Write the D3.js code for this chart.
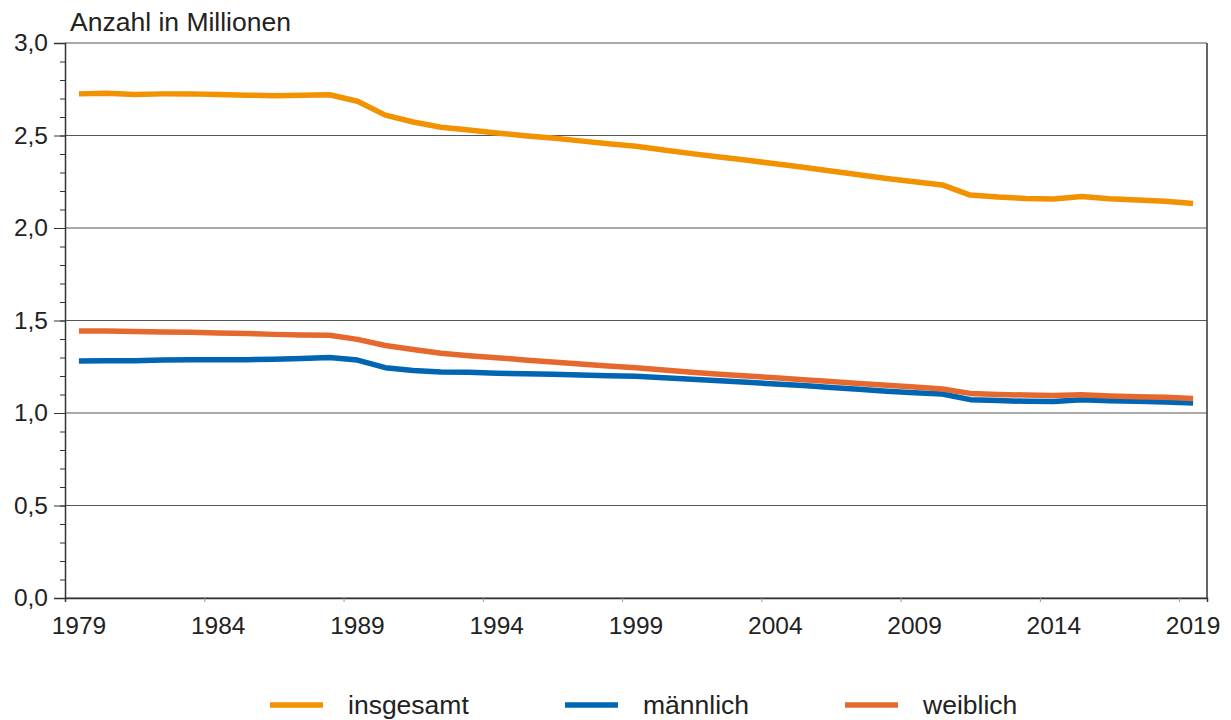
<!DOCTYPE html>
<html>
<head>
<meta charset="utf-8">
<script src="https://cdn.jsdelivr.net/npm/d3@7"></script>
<style>
  body { margin: 0; background: #fff; }
  text { font-family: "Liberation Sans", Arial, sans-serif; fill: #222; }
</style>
</head>
<body>
<div id="chart"></div>
<script>
// years 1979..2019
var years = d3.range(1979, 2020);
var insgesamt = [2.725, 2.728, 2.722, 2.725, 2.725, 2.721, 2.718, 2.715, 2.717, 2.72,
  2.685, 2.61, 2.573, 2.545, 2.53, 2.514, 2.499, 2.486, 2.471, 2.456,
  2.442, 2.422, 2.402, 2.384, 2.366, 2.347, 2.328, 2.308, 2.288, 2.268,
  2.25, 2.233, 2.178, 2.167, 2.16, 2.157, 2.17, 2.158, 2.151, 2.144, 2.132];
var maennlich = [1.281, 1.283, 1.283, 1.286, 1.288, 1.288, 1.288, 1.29, 1.295, 1.3,
  1.286, 1.245, 1.23, 1.222, 1.22, 1.215, 1.212, 1.21, 1.206, 1.202,
  1.198, 1.19, 1.182, 1.174, 1.166, 1.157, 1.148, 1.138, 1.128, 1.118,
  1.11, 1.103, 1.072, 1.067, 1.063, 1.062, 1.072, 1.066, 1.063, 1.059, 1.054];
var weiblich = [1.443, 1.443, 1.44, 1.438, 1.437, 1.433, 1.43, 1.425, 1.422, 1.42,
  1.398, 1.365, 1.343, 1.323, 1.31, 1.299, 1.287, 1.276, 1.265, 1.254,
  1.244, 1.232, 1.22, 1.21, 1.2, 1.19, 1.18, 1.17, 1.16, 1.15,
  1.14, 1.13, 1.106, 1.1, 1.097, 1.095, 1.098, 1.092, 1.088, 1.085, 1.078];
var xTickYears = [1979, 1984, 1989, 1994, 1999, 2004, 2009, 2014, 2019];
var yTicks = [0, 0.5, 1.0, 1.5, 2.0, 2.5, 3.0];

var series = [
  { name: "insgesamt", values: insgesamt, color: "#f39200" },
  { name: "männlich", values: maennlich, color: "#0066b3" },
  { name: "weiblich", values: weiblich, color: "#e5692e" }
];

var svgWidth = 1231, svgHeight = 720;
var margin = { top: 43, right: 24, bottom: 122, left: 65 };
var width = svgWidth - margin.left - margin.right;
var height = svgHeight - margin.top - margin.bottom;

var svg = d3.select("#chart")
  .append("svg")
  .attr("width", svgWidth)
  .attr("height", svgHeight);

var chartGroup = svg.append("g")
  .attr("transform", `translate(${margin.left}, ${margin.top})`);

var x = d3.scaleLinear()
  .domain([1978.5, 2019.5])
  .range([0, width]);

var y = d3.scaleLinear()
  .domain([0, 3])
  .range([height, 0]);

// gridlines
chartGroup.append("g")
  .selectAll("line")
  .data(yTicks)
  .enter()
  .append("line")
  .attr("x1", 0)
  .attr("x2", width)
  .attr("y1", d => y(d))
  .attr("y2", d => y(d))
  .attr("stroke", "#555")
  .attr("stroke-width", 1);

// left axis with minor ticks
var minor = d3.range(0, 3.01, 0.1);
chartGroup.append("g")
  .call(d3.axisLeft(y).tickValues(minor).tickSize(5).tickFormat(""))
  .call(g => g.select(".domain").remove())
  .selectAll("line").attr("stroke", "#333");

var leftAxis = chartGroup.append("g")
  .call(d3.axisLeft(y).tickValues(yTicks).tickSize(11).tickPadding(6)
    .tickFormat(d => d3.format(".1f")(d).replace(".", ",")));
leftAxis.select(".domain").attr("stroke", "#333").attr("stroke-width", 1.5);
leftAxis.selectAll("line").attr("stroke", "#333");
leftAxis.selectAll("text")
  .style("font-size", "24.5px")
  .style("font-family", "Liberation Sans, Arial, sans-serif")
  .attr("fill", "#222");

// bottom axis: ticks at category boundaries, labels at year
var bottomAxis = chartGroup.append("g")
  .attr("transform", `translate(0, ${height})`)
  .call(d3.axisBottom(x).tickValues(xTickYears.slice(1).map(d => d - 0.5)).tickSize(4).tickFormat(""));
bottomAxis.select(".domain").attr("stroke", "#333").attr("stroke-width", 1.5);
bottomAxis.selectAll("line").attr("stroke", "#999");

chartGroup.append("g")
  .selectAll("text")
  .data(xTickYears)
  .enter()
  .append("text")
  .attr("x", d => x(d))
  .attr("y", height + 36)
  .attr("text-anchor", "middle")
  .style("font-size", "24.5px")
  .text(d => d);

// right border
chartGroup.append("line")
  .attr("x1", width).attr("x2", width)
  .attr("y1", 0).attr("y2", height)
  .attr("stroke", "#333").attr("stroke-width", 1.5);

// lines
var line = d3.line()
  .x((d, i) => x(years[i]))
  .y(d => y(d));

chartGroup.selectAll(".series")
  .data(series)
  .enter()
  .append("path")
  .attr("class", "series")
  .attr("d", d => line(d.values))
  .attr("fill", "none")
  .attr("stroke", d => d.color)
  .attr("stroke-width", 5.5)
  .attr("stroke-linejoin", "round");

// y axis title
svg.append("text")
  .attr("x", 70)
  .attr("y", 31)
  .style("font-size", "26.5px")
  .text("Anzahl in Millionen");

// legend
var legendX = [270, 565, 845];
var legend = svg.selectAll(".legend")
  .data(series)
  .enter()
  .append("g")
  .attr("class", "legend")
  .attr("transform", (d, i) => `translate(${legendX[i]}, 705)`);

legend.append("line")
  .attr("x1", 0).attr("x2", 53)
  .attr("y1", 0).attr("y2", 0)
  .attr("stroke", d => d.color)
  .attr("stroke-width", 5.5);

legend.append("text")
  .attr("x", 78)
  .attr("y", 9)
  .style("font-size", "26.5px")
  .text(d => d.name);
</script>
</body>
</html>
